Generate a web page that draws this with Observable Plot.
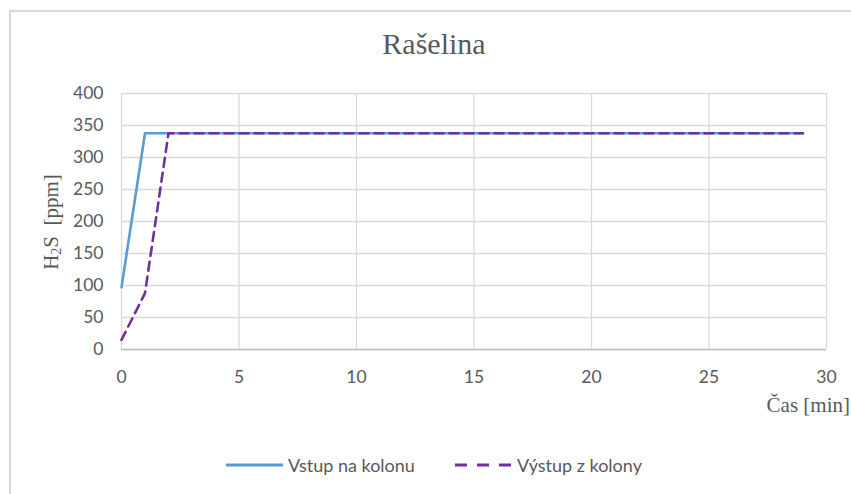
<!DOCTYPE html>
<html><head><meta charset="utf-8">
<script src="https://cdn.jsdelivr.net/npm/d3@7"></script>
<script src="https://cdn.jsdelivr.net/npm/@observablehq/plot@0.6"></script>
<style>
body{margin:0;width:851px;height:494px;overflow:hidden;background:#fff;position:relative;font-family:Lato,sans-serif;color:#595959}
#frame{position:absolute;left:9px;top:10px;width:900px;height:600px;border:2px solid #d9d9d9;box-sizing:border-box}
#title{position:absolute;left:0;width:868px;top:27px;text-align:center;font-family:"Liberation Serif","Times New Roman",serif;font-size:30px;color:#595959}
#ylabel{position:absolute;left:52px;top:222px;transform:translate(-50%,-50%) rotate(-90deg);white-space:nowrap;font-family:"Liberation Serif",serif;font-size:21px;color:#595959}
#ylabel sub{font-size:14px;vertical-align:-3px}
#xlabel{position:absolute;right:1px;top:393px;white-space:nowrap;font-family:"Liberation Serif",serif;font-size:21px;color:#595959}
#chart{position:absolute;left:0;top:80px}
#legend{position:absolute;top:454px;left:226px;display:flex;align-items:center;font-size:18px;color:#595959;white-space:nowrap}
#legend .item{display:flex;align-items:center}
#legend svg{margin-right:5px}
</style></head>
<body>
<div id="frame"></div>
<div id="title"></div>
<div id="ylabel">H<sub>2</sub>S&nbsp; [ppm]</div>
<div id="xlabel"></div>
<div id="chart"></div>
<div id="legend"></div>
<script>
const title = "Rašelina";
const xLabel = "Čas [min]";
const seriesNames = ["Vstup na kolonu", "Výstup z kolony"];
const seriesColors = ["#5B9BD5", "#7030A0"];
const minutes = [0,1,2,3,4,5,6,7,8,9,10,11,12,13,14,15,16,17,18,19,20,21,22,23,24,25,26,27,28,29];
const vstup = [97,338,338,338,338,338,338,338,338,338,338,338,338,338,338,338,338,338,338,338,338,338,338,338,338,338,338,338,338,338];
const vystup = [15,88,338,338,338,338,338,338,338,338,338,338,338,338,338,338,338,338,338,338,338,338,338,338,338,338,338,338,338,338];
const xTicks = [0,5,10,15,20,25,30];
const yTicks = [0,50,100,150,200,250,300,350,400];

document.getElementById("title").textContent = title;
document.getElementById("xlabel").textContent = xLabel;

const rowsA = minutes.map((t, i) => ({t, v: vstup[i]}));
const rowsB = minutes.map((t, i) => ({t, v: vystup[i]}));

const chart = Plot.plot({
  width: 851,
  height: 310,
  marginLeft: 121,
  marginRight: 25,
  marginTop: 13,
  marginBottom: 41,
  style: {color: "#595959", fontFamily: "Lato, sans-serif", fontSize: "17px", background: "transparent"},
  x: {domain: [0, 30]},
  y: {domain: [0, 400]},
  marks: [
    Plot.gridY(yTicks, {stroke: "#d9d9d9", strokeOpacity: 1, strokeWidth: 1.3}),
    Plot.gridX(xTicks, {stroke: "#d9d9d9", strokeOpacity: 1, strokeWidth: 1.3}),
    Plot.ruleY([0], {stroke: "#bfbfbf", strokeWidth: 1.3}),
    Plot.line(rowsA, {x: "t", y: "v", stroke: seriesColors[0], strokeWidth: 2.6}),
    Plot.line(rowsB, {x: "t", y: "v", stroke: seriesColors[1], strokeWidth: 2.6, strokeDasharray: "9,6"}),
    Plot.axisY(yTicks, {tickSize: 0, tickPadding: 18, fontSize: 17.5, label: null, fill: "#595959"}),
    Plot.axisX(xTicks, {tickSize: 0, tickPadding: 21, fontSize: 17.5, label: null, fill: "#595959"})
  ]
});
document.getElementById("chart").appendChild(chart);

const legend = document.getElementById("legend");
seriesNames.forEach((name, i) => {
  const item = document.createElement("div");
  item.className = "item";
  if (i > 0) item.style.marginLeft = "40px";
  const dash = i === 1 ? ' stroke-dasharray="12,10"' : '';
  item.innerHTML = `<svg width="57" height="10"><line x1="0" y1="5" x2="57" y2="5" stroke="${seriesColors[i]}" stroke-width="3"${dash}/></svg><span></span>`;
  item.querySelector("span").textContent = name;
  legend.appendChild(item);
});
</script>
</body></html>
